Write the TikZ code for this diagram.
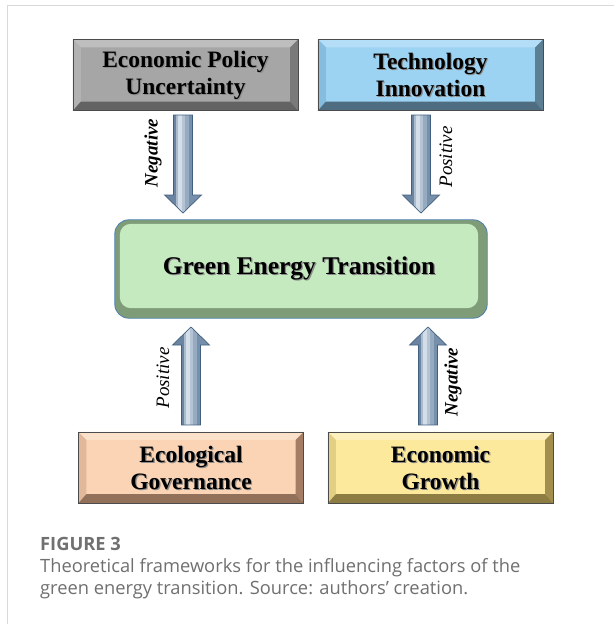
\documentclass[tikz,border=0pt]{standalone}
\usepackage{fontspec}
\setmainfont{Liberation Serif}
\newfontfamily\capfont{Open Sans}
\usetikzlibrary{calc}

\definecolor{frameline}{HTML}{D9D9D9}
\definecolor{capgrey}{HTML}{707070}
% grey box
\definecolor{gface}{HTML}{A6A6A6}
\definecolor{gtop}{HTML}{BEBEBE}
\definecolor{gleft}{HTML}{B2B2B2}
\definecolor{gright}{HTML}{7A7A7A}
\definecolor{gbot}{HTML}{636363}
% blue box
\definecolor{bface}{HTML}{9CD2F2}
\definecolor{btop}{HTML}{B4DEF7}
\definecolor{bleft}{HTML}{86BCDD}
\definecolor{bright}{HTML}{5C7F94}
\definecolor{bbot}{HTML}{4E6D80}
% green box
\definecolor{nface}{HTML}{C6EAC0}
\definecolor{nshade}{HTML}{7F9C79}
\definecolor{nline}{HTML}{4A7FAE}
% peach box
\definecolor{pface}{HTML}{FAD4B5}
\definecolor{ptop}{HTML}{FBE0CA}
\definecolor{pleft}{HTML}{E2B89A}
\definecolor{pright}{HTML}{A57C64}
\definecolor{pbot}{HTML}{93705A}
% yellow box
\definecolor{yface}{HTML}{FCE99C}
\definecolor{ytop}{HTML}{FDF0BC}
\definecolor{yleft}{HTML}{E3CF84}
\definecolor{yright}{HTML}{A28F4E}
\definecolor{ybot}{HTML}{8E7D42}
% block arrows
\definecolor{aedge}{HTML}{41607F}
\definecolor{aband1}{HTML}{6A84A1}
\definecolor{aband2}{HTML}{A9BBCD}
\definecolor{aband3}{HTML}{D3DEE9}
\definecolor{aband4}{HTML}{B4C4D4}
\definecolor{aband5}{HTML}{97ABC0}
\definecolor{aband6}{HTML}{7690AB}

\tikzset{
  boxtext/.style={font=\fontsize{23.5}{27}\selectfont\bfseries, align=center,
    inner sep=0pt, minimum width=225pt, minimum height=71pt},
  textshadow/.style={boxtext, text=black!45},
  boxline/.style={draw=black!70, line width=0.6pt},
  arrowline/.style={draw=aedge, line width=0.7pt},
  neglabel/.style={font=\fontsize{19}{19}\selectfont\bfseries\itshape, rotate=90},
  poslabel/.style={font=\fontsize{19}{19}\selectfont\itshape, rotate=90},
  captext/.style={font=\capfont\fontsize{18.3}{18.3}\selectfont, text=capgrey,
    anchor=base west, inner sep=0pt}
}

% four bevel strips around a rectangular node: name, top, left, right, bottom
\newcommand\bevelbox[5]{%
  \fill[#2] (#1.north west) -- (#1.north east) -- ($(#1.north east)+(-8,8)$)
    -- ($(#1.north west)+(8,8)$) -- cycle;
  \fill[#3] (#1.north west) -- ($(#1.north west)+(8,8)$)
    -- ($(#1.south west)+(8,-9)$) -- (#1.south west) -- cycle;
  \fill[#4] (#1.north east) -- ($(#1.north east)+(-8,8)$)
    -- ($(#1.south east)+(-8,-9)$) -- (#1.south east) -- cycle;
  \fill[#5] (#1.south west) -- ($(#1.south west)+(8,-9)$)
    -- ($(#1.south east)+(-8,-9)$) -- (#1.south east) -- cycle;
  \draw[boxline] (#1.north west) rectangle (#1.south east);
}

% labelled box text with a soft drop shadow
\newcommand\boxlabel[2]{%
  \node[textshadow] at ($(#1)+(1.2,1.2)$) {#2};
  \node[boxtext] at (#1) {#2};
}

% outline of a block arrow from #1 to its tip #2
\newcommand\arrowpath[2]{%
  ($(#1)!9.5pt!90:(#2)$) -- ($(hb)!9.5pt!-90:(#1)$) -- ($(hb)!18.5pt!-90:(#1)$)
    -- (#2) -- ($(hb)!18.5pt!90:(#1)$) -- ($(hb)!9.5pt!90:(#1)$)
    -- ($(#1)!9.5pt!-90:(#2)$) -- cycle
}

% one vertical colour band of an arrow: start, tip, left offset, right offset, colour
\newcommand\arrowband[5]{%
  \fill[#5] let \p1=(#1), \p2=(#2) in (\x1+#3,\y1) rectangle (\x1+#4,\y2);
}

% vertical block arrow between two named coordinates, metallic banding
\newcommand\blockarrow[2]{%
  \coordinate (hb) at ($(#2)!18pt!(#1)$);
  \begin{scope}
    \clip \arrowpath{#1}{#2};
    \arrowband{#1}{#2}{-20pt}{-7pt}{aband1}
    \arrowband{#1}{#2}{-7pt}{-5.5pt}{aband2}
    \arrowband{#1}{#2}{-5.5pt}{-1.5pt}{aband3}
    \arrowband{#1}{#2}{-1.5pt}{2pt}{aband4}
    \arrowband{#1}{#2}{2pt}{6pt}{aband5}
    \arrowband{#1}{#2}{6pt}{20pt}{aband6}
  \end{scope}
  \draw[arrowline] \arrowpath{#1}{#2};
}

\begin{document}
\begin{tikzpicture}[x=1pt,y=-1pt]
  \useasboundingbox (0,0) rectangle (614,624);
  \fill[white] (0,0) rectangle (614,624);

  % panel frame
  \draw[frameline, line width=1.2pt] (7.5,624) -- (7.5,5.5) -- (614,5.5);

  % cause boxes
  \node[boxtext, fill=gface] (epu) at (185.5,75) {};
  \bevelbox{epu}{gtop}{gleft}{gright}{gbot}
  \boxlabel{epu}{Economic Policy\\Uncertainty}

  \node[boxtext, fill=bface] (ti) at (430.5,75) {};
  \bevelbox{ti}{btop}{bleft}{bright}{bbot}
  \boxlabel{ti}{Technology\\Innovation}

  \node[boxtext, fill=pface] (eg) at (191,467.5) {};
  \bevelbox{eg}{ptop}{pleft}{pright}{pbot}
  \boxlabel{eg}{Ecological\\Governance}

  \node[boxtext, fill=yface] (eco) at (440.5,467.5) {};
  \bevelbox{eco}{ytop}{yleft}{yright}{ybot}
  \boxlabel{eco}{Economic\\Growth}

  % central outcome box
  \node[minimum width=372pt, minimum height=98pt, inner sep=0pt] (get) at (301,269) {};
  \fill[nshade, draw=nline, line width=0.8pt, rounded corners=14pt]
    (get.north west) rectangle (get.south east);
  \fill[nface, rounded corners=11pt]
    ($(get.north west)+(5,4)$) rectangle ($(get.south east)+(-9,-10)$);
  \node[font=\fontsize{25.5}{25.5}\selectfont\bfseries, text=black!45]
    at ($(get.center)+(-0.8,0.2)$) {Green Energy Transition};
  \node[font=\fontsize{25.5}{25.5}\selectfont\bfseries]
    at ($(get.center)+(-2,-1)$) {Green Energy Transition};

  % arrow end points
  \coordinate (a1s) at (183,115);  \coordinate (a1e) at (183,213);
  \coordinate (a2s) at (421,115);  \coordinate (a2e) at (421,213);
  \coordinate (a3s) at (191,425);  \coordinate (a3e) at (191,327);
  \coordinate (a4s) at (428,425);  \coordinate (a4e) at (428,327);

  \blockarrow{a1s}{a1e}
  \blockarrow{a2s}{a2e}
  \blockarrow{a3s}{a3e}
  \blockarrow{a4s}{a4e}

  % effect labels
  \node[neglabel] (l1) at (153,153) {Negative};
  \node[poslabel] (l2) at (446,157) {Positive};
  \node[poslabel] (l3) at (163,378) {Positive};
  \node[neglabel] (l4) at (453,382) {Negative};

  % caption
  \node[captext, font=\capfont\fontsize{18.3}{18.3}\selectfont\bfseries] (cap0) at (40,550) {FIGURE 3};
  \node[captext] (cap1) at (40,572) {Theoretical frameworks for the influencing factors of the};
  \node[captext] (cap2) at (40,594) {green energy transition. Source: authors’ creation.};
\end{tikzpicture}
\end{document}
